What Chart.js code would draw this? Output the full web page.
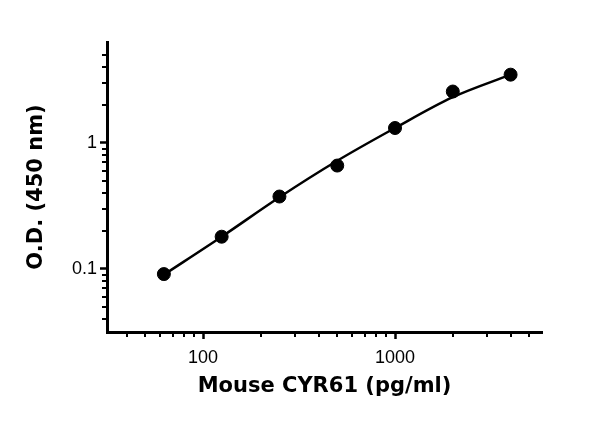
<!DOCTYPE html>
<html>
<head>
<meta charset="utf-8">
<script src="https://cdn.jsdelivr.net/npm/chart.js@4"></script>
<style>
  html, body { margin: 0; padding: 0; background: #fff; }
  #wrap { width: 600px; height: 421px; }
</style>
</head>
<body>
<div id="wrap"><canvas id="odChart" width="600" height="421"></canvas></div>
<script>
// standard concentrations (pg/ml) and measured O.D.
var concentrations = [62.5, 125, 250, 500, 1000, 2000, 4000];
var odValues = [0.091, 0.18, 0.375, 0.66, 1.31, 2.55, 3.47];
// fitted curve at the same concentrations
var curveValues = [0.09, 0.18, 0.37, 0.72, 1.31, 2.3, 3.47];

var xMajorTicks = [100, 1000];
var xMinorTicks = [40, 50, 60, 70, 80, 90, 200, 300, 400, 500, 600, 700, 800, 900, 2000, 3000, 4000, 5000];
var yMajorTicks = [0.1, 1];
var yMinorTicks = [0.04, 0.05, 0.06, 0.07, 0.08, 0.09, 0.2, 0.3, 0.4, 0.5, 0.6, 0.7, 0.8, 0.9, 2, 3, 4, 5];

function toPoints(xs, ys) {
    return xs.map(function (x, i) { return {x: x, y: ys[i]}; });
}

function buildTicks(major, minor) {
    return major.concat(minor).sort(function (a, b) { return a - b; }).map(function (v) {
        return {value: v, major: major.indexOf(v) !== -1};
    });
}

// short minor tick marks (the grid draws only the long major ones)
var minorTickPlugin = {
    id: 'minorTicks',
    afterDraw: function (chart) {
        var ctx = chart.ctx;
        var xs = chart.scales.x, ys = chart.scales.y;
        var area = chart.chartArea;
        ctx.save();
        ctx.strokeStyle = '#000';
        ctx.lineWidth = 2;
        xMinorTicks.forEach(function (v) {
            var px = Math.round(xs.getPixelForValue(v));
            ctx.beginPath();
            ctx.moveTo(px, area.bottom);
            ctx.lineTo(px, area.bottom + 5);
            ctx.stroke();
        });
        yMinorTicks.forEach(function (v) {
            var py = Math.round(ys.getPixelForValue(v));
            ctx.beginPath();
            ctx.moveTo(area.left, py);
            ctx.lineTo(area.left - 5, py);
            ctx.stroke();
        });
        ctx.restore();
    }
};

var ctx = document.getElementById('odChart').getContext('2d');

var chart = new Chart(ctx, {
    type: 'scatter',
    data: {
        datasets: [{
            label: 'Fit',
            data: toPoints(concentrations, curveValues),
            showLine: true,
            borderColor: '#000',
            borderWidth: 2.5,
            pointRadius: 0,
            cubicInterpolationMode: 'monotone'
        }, {
            label: 'Mouse CYR61',
            data: toPoints(concentrations, odValues),
            showLine: false,
            pointRadius: 6.5,
            pointBackgroundColor: '#000',
            pointBorderColor: '#000'
        }]
    },
    options: {
        responsive: false,
        animation: false,
        layout: {padding: {left: 0, right: 58, top: 42, bottom: 0}},
        plugins: {legend: {display: false}, tooltip: {enabled: false}},
        scales: {
            x: {
                type: 'logarithmic',
                min: 31.6,
                max: 5830,
                afterBuildTicks: function (scale) { scale.ticks = buildTicks(xMajorTicks, xMinorTicks); },
                afterFit: function (scale) { scale.height = 89; },
                grid: {
                    drawOnChartArea: false,
                    tickLength: 7,
                    tickWidth: 2.5,
                    tickColor: function (c) { return c.tick && c.tick.major ? '#000' : 'rgba(0,0,0,0)'; }
                },
                border: {display: true, color: '#000', width: 3},
                ticks: {
                    autoSkip: false,
                    maxRotation: 0,
                    padding: 8,
                    color: '#000',
                    font: {family: 'Liberation Sans', size: 18},
                    callback: function (v) { return xMajorTicks.indexOf(v) !== -1 ? String(v) : ''; }
                },
                title: {
                    display: true,
                    text: 'Mouse CYR61 (pg/ml)',
                    color: '#000',
                    font: {family: 'DejaVu Sans', size: 21, weight: 'bold'},
                    padding: {top: 0, bottom: 22}
                }
            },
            y: {
                type: 'logarithmic',
                min: 0.0316,
                max: 6.3,
                afterBuildTicks: function (scale) { scale.ticks = buildTicks(yMajorTicks, yMinorTicks); },
                afterFit: function (scale) { scale.width = 107; },
                grid: {
                    drawOnChartArea: false,
                    tickLength: 7,
                    tickWidth: 2.5,
                    tickColor: function (c) { return c.tick && c.tick.major ? '#000' : 'rgba(0,0,0,0)'; }
                },
                border: {display: true, color: '#000', width: 3},
                ticks: {
                    autoSkip: false,
                    padding: 3,
                    color: '#000',
                    font: {family: 'Liberation Sans', size: 18},
                    callback: function (v) { return yMajorTicks.indexOf(v) !== -1 ? String(v) : ''; }
                },
                title: {
                    display: true,
                    text: 'O.D. (450 nm)',
                    color: '#000',
                    font: {family: 'DejaVu Sans', size: 21, weight: 'bold'},
                    padding: {top: 24, bottom: 0}
                }
            }
        }
    },
    plugins: [minorTickPlugin]
});
</script>
</body>
</html>
